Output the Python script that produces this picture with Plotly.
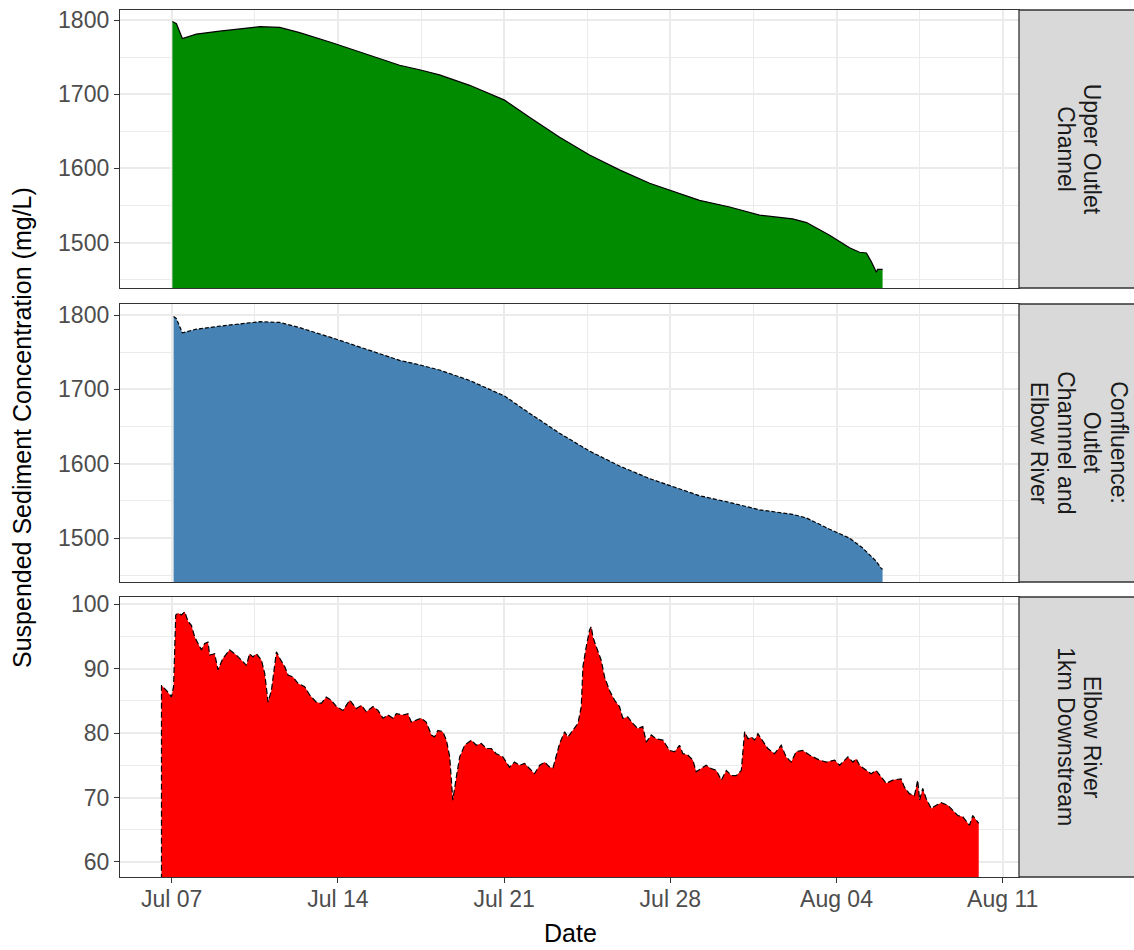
import pandas as pd
import plotly.graph_objects as go

# ---------------- data (days since 07 Jul) ----------------
base_date = "2021-07-07"

upper_days = [0.03, 0.20, 0.45, 1.04, 2.02, 2.58, 3.71, 4.55, 5.39, 6.79, 8.20, 9.60,
              10.44, 11.28, 12.55, 14.02, 15.07, 16.34, 17.60, 18.86, 20.13, 21.39,
              22.23, 23.50, 24.76, 26.15, 26.74, 27.71, 28.55, 28.97, 29.26, 29.47,
              29.68, 29.73, 29.94]
upper_vals = [1798, 1795, 1775, 1781, 1785, 1787, 1791, 1790, 1783, 1769, 1754, 1739,
              1733, 1726, 1712, 1692, 1669, 1642, 1618, 1598, 1580, 1566,
              1557, 1548, 1537, 1532, 1527, 1510, 1493, 1487, 1486, 1474,
              1460, 1464, 1464]

conf_days = [0.08, 0.20, 0.45, 1.04, 2.02, 2.58, 3.71, 4.55, 5.39, 6.79, 8.20, 9.60,
             10.44, 11.28, 12.55, 14.02, 15.07, 16.34, 17.60, 18.86, 20.13, 21.39,
             22.23, 23.50, 24.76, 26.15, 26.74, 27.71, 28.55, 29.09, 29.67, 29.87, 29.94]
conf_vals = [1798, 1795, 1776, 1781, 1785, 1787, 1791, 1790, 1783, 1769, 1754, 1739,
             1733, 1726, 1712, 1691, 1668, 1641, 1617, 1597, 1580, 1566,
             1557, 1548, 1538, 1532, 1527, 1512, 1500, 1487, 1469, 1460, 1458]

down_days = [-0.43, -0.43, -0.22, -0.01, 0.08, 0.17, 0.27, 0.41, 0.55, 0.69, 0.83, 0.97,
             1.11, 1.25, 1.39, 1.53, 1.60, 1.81, 1.95, 2.16, 2.44, 2.72, 2.94, 3.15,
             3.28, 3.42, 3.57, 3.78, 3.92, 4.06, 4.20, 4.41, 4.55, 4.76, 4.90, 5.11,
             5.32, 5.60, 5.81, 6.09, 6.30, 6.51, 6.72, 6.94, 7.21, 7.50, 7.78, 7.99,
             8.20, 8.48, 8.69, 8.90, 9.11, 9.32, 9.46, 9.74, 9.95, 10.09, 10.30, 10.51,
             10.72, 10.94, 11.07, 11.21, 11.42, 11.57, 11.71, 11.84, 11.99, 12.13, 12.34,
             12.62, 12.83, 13.04, 13.25, 13.46, 13.67, 13.95, 14.23, 14.44, 14.65, 14.86,
             15.07, 15.28, 15.50, 15.71, 15.92, 16.06, 16.34, 16.55, 16.69, 16.90, 17.11,
             17.25, 17.32, 17.46, 17.60, 17.67, 17.74, 17.88, 18.09, 18.23, 18.44, 18.65,
             18.86, 19.00, 19.21, 19.42, 19.63, 19.84, 19.99, 20.20, 20.41, 20.69, 20.97,
             21.18, 21.39, 21.53, 21.74, 21.95, 22.09, 22.30, 22.51, 22.72, 22.94, 23.15,
             23.36, 23.57, 23.78, 23.99, 24.13, 24.27, 24.41, 24.55, 24.69, 24.83, 25.11,
             25.39, 25.67, 25.88, 26.09, 26.30, 26.58, 26.86, 27.28, 27.57, 27.92, 28.13,
             28.48, 28.69, 28.83, 28.97, 29.25, 29.46, 29.67, 29.88, 30.09, 30.37, 30.72,
             30.86, 31.07, 31.28, 31.42, 31.50, 31.63, 31.78, 31.99, 32.20, 32.41, 32.69,
             32.90, 33.11, 33.32, 33.60, 33.74, 33.88, 33.99]
down_vals = [0, 87.4, 86.6, 85.6, 87.2, 98.3, 98.6, 98.3, 98.8, 97.3, 96.7, 94.9,
             93.9, 92.9, 93.9, 94.1, 92.1, 92.3, 89.8, 91.6, 92.9, 92.1, 91.3, 90.5,
             92.3, 91.8, 92.3, 91.3, 89.2, 84.8, 86.6, 92.6, 91.6, 90.3, 89.0, 88.7,
             87.7, 87.2, 85.9, 84.8, 84.6, 85.6, 85.1, 84.1, 83.5, 85.1, 83.8, 84.3,
             83.3, 84.1, 83.5, 82.3, 82.8, 82.3, 83.0, 82.8, 83.0, 81.7, 82.0, 82.3,
             81.7, 79.7, 79.4, 80.4, 80.2, 78.9, 76.3, 69.6, 73.2, 76.3, 78.1,
             78.9, 78.1, 78.4, 77.6, 77.6, 76.8, 76.3, 74.7, 75.5, 75.0, 75.3,
             74.5, 73.7, 75.0, 75.5, 74.7, 74.6, 78.4, 80.2, 79.4, 80.4, 81.5,
             84.1, 90.3, 93.4, 96.0, 96.5, 94.9, 93.4, 91.3, 88.7, 86.6, 85.1,
             84.1, 82.3, 82.5, 81.5, 80.7, 81.0, 78.6, 79.7, 79.1, 78.9, 77.3,
             77.1, 78.1, 76.8, 76.6, 75.8, 74.0, 74.5, 75.0, 74.5, 74.2, 72.7,
             74.2, 73.4, 73.4, 74.2, 80.2, 79.1, 79.4, 78.9, 79.9, 79.1, 77.6,
             76.8, 78.1, 76.3, 75.5, 77.1, 77.3, 76.6, 75.8, 75.5, 75.8, 75.0,
             76.3, 75.5, 76.0, 75.0, 74.2, 73.7, 74.2, 73.2, 72.2, 72.7, 72.9,
             71.6, 70.6, 70.3, 72.7, 69.6, 71.4, 69.8, 68.3, 68.8, 69.2, 68.8,
             68.0, 67.2, 67.0, 65.7, 67.2, 66.5, 66.0]

site_label_lines = [["Upper Outlet", "Channel"],
                    ["Confluence:", "Outlet", "Channnel and", "Elbow River"],
                    ["Elbow River", "1km Downstream"]]
fill_colors = ["#008B00", "#4682B4", "#FF0000"]
line_dashes = ["solid", "4px,2px", "6px,3px"]
y_ranges = [[1438.8, 1813.5], [1441, 1814.8], [57.67, 101.1]]
y_ticks = [[1500, 1600, 1700, 1800], [1500, 1600, 1700, 1800], [60, 70, 80, 90, 100]]
y_minor = [50, 50, 5]

x_ticks = ["2021-07-07", "2021-07-14", "2021-07-21", "2021-07-28", "2021-08-04", "2021-08-11"]

t0 = pd.Timestamp(base_date)
def to_dates(days):
    return [t0 + pd.Timedelta(days=d) for d in days]

series = [(upper_days, upper_vals), (conf_days, conf_vals), (down_days, down_vals)]

# ---------------- layout geometry (pixels) ----------------
W, H = 1134, 950
L, R, T, B = 120, 0, 10, 73
pw, ph = W - L - R, H - T - B
def px_x(p):
    return (p - L) / pw
def px_y(p):
    return (H - B - p) / ph

panel_px = [(10, 288), (304, 582), (597, 877)]
panel_right = 1019
strip_right = 1140
strip_center = 1079
strip_line_gap = 26.5

FONT = "Liberation Sans, Arial, sans-serif"
fig = go.Figure()
grid = "#EBEBEB"
border = "#333333"
tick_font = dict(family=FONT, size=23, color="#4D4D4D")

x_range = [t0 + pd.Timedelta(days=-2.177), t0 + pd.Timedelta(days=35.686)]

for i, ((d, v), col, dash) in enumerate(zip(series, fill_colors, line_dashes)):
    n = "" if i == 0 else str(i + 1)
    fig.add_trace(go.Scatter(
        x=to_dates(d), y=v, mode="lines", fill="tozeroy", fillcolor=col,
        line=dict(color="black", width=1.2, dash=dash),
        xaxis="x" + n, yaxis="y" + n, showlegend=False, hoverinfo="skip"))
    top, bot = panel_px[i]
    fig.update_layout(**{
        "xaxis" + n: dict(
            domain=[0, px_x(panel_right)], anchor="y" + n, type="date",
            range=x_range, tickvals=x_ticks, tickformat="%b %d",
            showticklabels=(i == 2), ticks="outside" if i == 2 else "",
            ticklen=5, tickwidth=1.3, tickcolor=border, tickfont=tick_font,
            ticklabelstandoff=-4,
            showgrid=True, gridcolor=grid, gridwidth=1.5,
            minor=dict(showgrid=True, gridcolor=grid, gridwidth=0.8,
                       dtick=3.5 * 86400000, tick0="2021-07-03 12:00"),
            showline=True, linecolor=border, linewidth=1.3, mirror=True,
            zeroline=False, matches="x" if i > 0 else None, automargin=False),
        "yaxis" + n: dict(
            domain=[px_y(bot), px_y(top)], anchor="x" + n,
            range=y_ranges[i], tickvals=y_ticks[i],
            ticks="outside", ticklen=5, tickwidth=1.3, tickcolor=border,
            tickfont=tick_font,
            showgrid=True, gridcolor=grid, gridwidth=1.5,
            minor=dict(showgrid=True, gridcolor=grid, gridwidth=0.8,
                       dtick=y_minor[i], tick0=0),
            showline=True, linecolor=border, linewidth=1.3, mirror=True,
            zeroline=False, automargin=False),
    })
    # strip
    fig.add_shape(type="rect", xref="paper", yref="paper",
                  x0=px_x(panel_right), x1=px_x(strip_right),
                  y0=px_y(bot), y1=px_y(top),
                  fillcolor="#D9D9D9", line=dict(color=border, width=1.3))
    lines = site_label_lines[i]
    k = len(lines)
    for j, txt in enumerate(lines):
        cx = strip_center + ((k - 1) / 2 - j) * strip_line_gap
        fig.add_annotation(xref="paper", yref="paper", x=px_x(cx), y=px_y((top + bot) / 2),
                           text=txt, textangle=90, showarrow=False,
                           xanchor="center", yanchor="middle",
                           font=dict(family=FONT, size=23, color="#1A1A1A"))

fig.add_annotation(xref="paper", yref="paper", x=px_x(22), y=px_y(428),
                   text="Suspended Sediment Concentration (mg/L)", textangle=-90,
                   showarrow=False, xanchor="center", yanchor="middle",
                   font=dict(family=FONT, size=25, color="black"))
fig.add_annotation(xref="paper", yref="paper", x=px_x(570), y=px_y(933),
                   text="Date", showarrow=False, xanchor="center", yanchor="middle",
                   font=dict(family=FONT, size=25, color="black"))

fig.update_layout(width=W, height=H, margin=dict(l=L, r=R, t=T, b=B),
                  paper_bgcolor="white", plot_bgcolor="white", showlegend=False)

fig.write_html("out.html", config={"displayModeBar": False},
               post_script="document.body.style.margin='0';document.body.style.overflow='hidden';")
